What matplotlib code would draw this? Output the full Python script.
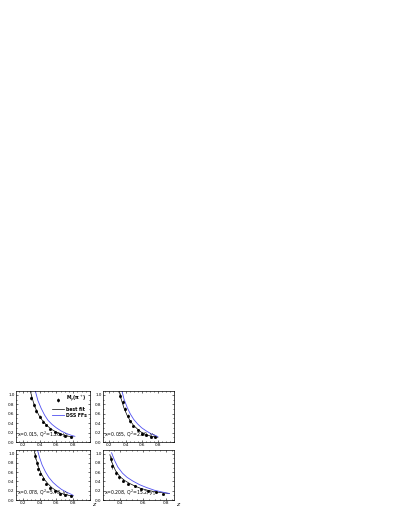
import numpy as np
import matplotlib
matplotlib.use("Agg")
import matplotlib.pyplot as plt
from matplotlib.ticker import MultipleLocator

# panel labels
labels = ["x=0.015, Q$^2$=1.26, $y_1$",
          "x=0.035, Q$^2$=2.60, $y_1$",
          "x=0.078, Q$^2$=5.78, $y_1$",
          "x=0.208, Q$^2$=15.2, $y_1$"]

# data points (z, multiplicity, error) per panel
data_z = [
    [0.30, 0.33, 0.36, 0.40, 0.44, 0.48, 0.53, 0.58, 0.64, 0.70, 0.77],
    [0.335, 0.363, 0.396, 0.424, 0.457, 0.497, 0.55, 0.60, 0.65, 0.71, 0.76],
    [0.34, 0.37, 0.385, 0.41, 0.44, 0.48, 0.52, 0.58, 0.64, 0.70, 0.77],
    [0.316, 0.33, 0.36, 0.39, 0.426, 0.47, 0.53, 0.585, 0.64, 0.715, 0.77],
]
data_m = [
    [0.93, 0.78, 0.65, 0.54, 0.43, 0.35, 0.27, 0.21, 0.17, 0.13, 0.10],
    [0.98, 0.84, 0.70, 0.56, 0.44, 0.33, 0.25, 0.18, 0.15, 0.11, 0.10],
    [0.95, 0.79, 0.66, 0.57, 0.46, 0.35, 0.26, 0.19, 0.14, 0.11, 0.09],
    [0.88, 0.73, 0.59, 0.49, 0.42, 0.35, 0.30, 0.24, 0.20, 0.17, 0.14],
]
data_err = [
    [0.05, 0.04, 0.04, 0.03, 0.03, 0.02, 0.02, 0.02, 0.01, 0.01, 0.01],
    [0.05, 0.04, 0.04, 0.03, 0.03, 0.02, 0.02, 0.02, 0.01, 0.01, 0.01],
    [0.06, 0.05, 0.04, 0.03, 0.03, 0.02, 0.02, 0.02, 0.01, 0.01, 0.01],
    [0.06, 0.05, 0.04, 0.03, 0.03, 0.02, 0.02, 0.02, 0.01, 0.01, 0.01],
]

# best fit curves
fit_z = [
    [0.29, 0.33, 0.36, 0.40, 0.45, 0.50, 0.55, 0.60, 0.65, 0.70, 0.75, 0.80],
    [0.32, 0.35, 0.38, 0.42, 0.46, 0.50, 0.55, 0.60, 0.65, 0.70, 0.75, 0.80],
    [0.335, 0.36, 0.39, 0.42, 0.46, 0.50, 0.55, 0.60, 0.65, 0.70, 0.75, 0.80],
    [0.31, 0.33, 0.36, 0.40, 0.44, 0.48, 0.53, 0.58, 0.64, 0.70, 0.76, 0.83],
]
fit_m = [
    [1.08, 0.82, 0.68, 0.54, 0.42, 0.33, 0.26, 0.21, 0.17, 0.14, 0.12, 0.11],
    [1.08, 0.88, 0.72, 0.56, 0.44, 0.35, 0.27, 0.20, 0.16, 0.13, 0.11, 0.10],
    [1.08, 0.88, 0.70, 0.57, 0.44, 0.35, 0.26, 0.20, 0.15, 0.12, 0.10, 0.09],
    [0.98, 0.80, 0.63, 0.50, 0.42, 0.36, 0.30, 0.25, 0.21, 0.18, 0.16, 0.14],
]

# DSS FFs curves
dss_z = [
    [0.35, 0.38, 0.42, 0.46, 0.50, 0.55, 0.60, 0.66, 0.72, 0.78, 0.82],
    [0.355, 0.38, 0.42, 0.46, 0.50, 0.55, 0.60, 0.66, 0.72, 0.78, 0.80],
    [0.375, 0.40, 0.43, 0.47, 0.51, 0.56, 0.61, 0.66, 0.72, 0.78, 0.80],
    [0.325, 0.35, 0.38, 0.42, 0.46, 0.51, 0.57, 0.63, 0.70, 0.77, 0.83],
]
dss_m = [
    [1.08, 0.88, 0.71, 0.57, 0.46, 0.37, 0.30, 0.23, 0.18, 0.14, 0.12],
    [1.08, 0.91, 0.73, 0.59, 0.48, 0.38, 0.30, 0.23, 0.17, 0.13, 0.11],
    [1.08, 0.92, 0.76, 0.61, 0.49, 0.38, 0.30, 0.23, 0.17, 0.12, 0.10],
    [1.02, 0.86, 0.71, 0.58, 0.49, 0.41, 0.33, 0.27, 0.21, 0.17, 0.14],
]

xlims = [(0.12, 1.0), (0.12, 1.0), (0.12, 1.0), (0.25, 0.87)]
xticks = [[0.2, 0.4, 0.6, 0.8], [0.2, 0.4, 0.6, 0.8],
          [0.2, 0.4, 0.6, 0.8], [0.4, 0.6, 0.8]]

W, H = 401, 519
fig = plt.figure(figsize=(W / 100, H / 100), dpi=100)

# panel boxes in pixels: left, top, right, bottom
boxes = [(16, 391, 90, 442), (103, 391, 174, 442),
         (16, 450, 90, 500), (103, 450, 174, 500)]

fs = 3.3
for i, (l, t, r, b) in enumerate(boxes):
    ax = fig.add_axes([l / W, 1 - b / H, (r - l) / W, (b - t) / H])
    ax.plot(fit_z[i], fit_m[i], color='black', lw=0.5, label='best fit')
    ax.plot(dss_z[i], dss_m[i], color='#5050f0', lw=0.6, label='DSS FFs')
    ax.errorbar(data_z[i], data_m[i], yerr=data_err[i], fmt='s', ms=1.0,
                color='black', elinewidth=0.4, capsize=0,
                label='M$_p$(π$^+$)')
    ax.set_xlim(*xlims[i])
    ax.set_ylim(0, 1.08)
    ax.set_xticks(xticks[i])
    ax.set_yticks([0.0, 0.2, 0.4, 0.6, 0.8, 1.0])
    ax.xaxis.set_minor_locator(MultipleLocator(0.05))
    ax.yaxis.set_minor_locator(MultipleLocator(0.1))
    ax.tick_params(which='both', direction='in', top=True, right=True,
                   labelsize=fs - 0.3, pad=1, width=0.4)
    ax.tick_params(which='major', length=1.5)
    ax.tick_params(which='minor', length=0.8)
    for s in ax.spines.values():
        s.set_linewidth(0.5)
    ax.text(0.02, 0.1, labels[i], transform=ax.transAxes, fontsize=fs)
    if i >= 2:
        ax.text(1.03, -0.08, 'z', transform=ax.transAxes, fontsize=fs + 1,
                va='center', style='italic')
    if i == 0:
        handles, lbls = ax.get_legend_handles_labels()
        order = [2, 0, 1]
        ax.legend([handles[k] for k in order], [lbls[k] for k in order],
                  loc='upper right', prop={'size': fs, 'weight': 'bold'},
                  frameon=False, handlelength=2.5, borderaxespad=0.3,
                  labelspacing=0.3, handletextpad=0.5)

fig.savefig('out.png', dpi=100)
